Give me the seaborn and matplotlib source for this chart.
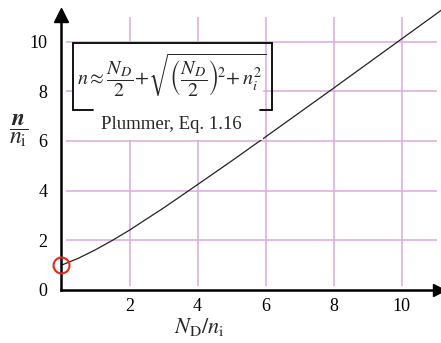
import matplotlib
matplotlib.use("Agg")
import matplotlib.pyplot as plt
import seaborn as sns
import pandas as pd
from matplotlib.patches import Rectangle
from matplotlib.lines import Line2D

# Electron concentration n/ni versus donor doping ND/ni
nd_over_ni = [0.0, 0.5, 1.0, 1.5, 2.0, 3.0, 4.0, 5.0, 6.0, 7.0, 8.0, 9.0, 10.0, 11.0, 11.3]
n_over_ni = [1.00, 1.28, 1.62, 2.00, 2.41, 3.30, 4.24, 5.19, 6.16, 7.14, 8.12, 9.11, 10.10, 11.09, 11.39]

x_ticks = [2, 4, 6, 8, 10]
y_ticks = [0, 2, 4, 6, 8, 10]
x_tick_labels = ["2", "4", "6", "8", "10"]
y_tick_labels = ["0", "2", "4", "6", "8", "10"]

equation = (r"$n \approx \dfrac{N_D}{2}\!+\!\sqrt{\left(\dfrac{N_D}{2}\right)^{\!2}\!+ n_i^2}$")
citation = "Plummer, Eq. 1.16"

sns.set_theme(style="white")
plt.rcParams["font.family"] = ["Liberation Serif", "DejaVu Serif"]
plt.rcParams["mathtext.fontset"] = "stix"

W, H = 441, 343
fig = plt.figure(figsize=(W / 100, H / 100), dpi=100)
ax = fig.add_axes([61.5 / W, 53 / H, 1 - 61.5 / W, 1 - 53 / H])

xmax = (W - 61.5) / 34.0
ymax = 290 / 24.85
ax.set_xlim(0, xmax)
ax.set_ylim(0, ymax)

grid_color = "#dcaadc"
ax.vlines(x_ticks, 0.15, 11.0, color=grid_color, lw=1.1, zorder=1)
ax.hlines([t for t in y_ticks if t > 0], 0.13, 11.05, color=grid_color, lw=1.1, zorder=1)

df = pd.DataFrame({"ND/ni": nd_over_ni, "n/ni": n_over_ni})
sns.lineplot(data=df, x="ND/ni", y="n/ni", ax=ax, color="#222222", lw=0.9, zorder=2)
ax.set_xlabel("")
ax.set_ylabel("")

# white panel holding the formula
ax.add_patch(Rectangle((0.34, 6.02), 5.6, 3.92, facecolor="white", edgecolor="none", zorder=3))
bx0, bx1, by0, by1 = 0.34, 6.19, 7.24, 9.94
for xs, ys in [((bx0, bx1), (by1, by1)), ((bx0, bx0), (by0, by1)), ((bx1, bx1), (by0, by1)),
               ((bx0, 0.92), (by0, by0)), ((5.84, bx1), (by0, by0))]:
    ax.add_line(Line2D(xs, ys, color="black", lw=1.3, zorder=4))
ax.text(3.24, 8.62, equation, ha="center", va="center", fontsize=14.5, zorder=5)
ax.text(3.24, 6.66, citation, ha="center", va="center", fontsize=13.5, zorder=5)

# marker at the intrinsic point
ax.plot([0], [1.0], marker="o", ms=11.5, mfc="none", mec="#e8281a", mew=1.5, clip_on=False, zorder=6)

# axes with arrow heads
for s in ["top", "right"]:
    ax.spines[s].set_visible(False)
for s in ["left", "bottom"]:
    ax.spines[s].set_color("black")
    ax.spines[s].set_linewidth(1.8)
ax.spines["left"].set_bounds(0, 11.0)
ax.plot([0.995], [0], marker=">", ms=9, color="black", transform=ax.transAxes, clip_on=False, zorder=7)
ax.plot([0], [11.05], marker="^", ms=10, color="black", clip_on=False, zorder=7)

ax.set_xticks(x_ticks, x_tick_labels)
ax.set_yticks(y_ticks, y_tick_labels)
ax.tick_params(axis="both", length=0, labelsize=13, colors="black")
ax.tick_params(axis="x", pad=6)
ax.tick_params(axis="y", pad=10)

fig.text(199 / W, 1 - 327 / H, r"$N_\mathrm{D}/n_\mathrm{i}$", ha="center", va="center", fontsize=16)
fig.text(19 / W, 1 - 131 / H, r"$\dfrac{\boldsymbol{n}}{n_\mathrm{i}}$", ha="center", va="center", fontsize=17)

fig.savefig("out.png", dpi=100)
